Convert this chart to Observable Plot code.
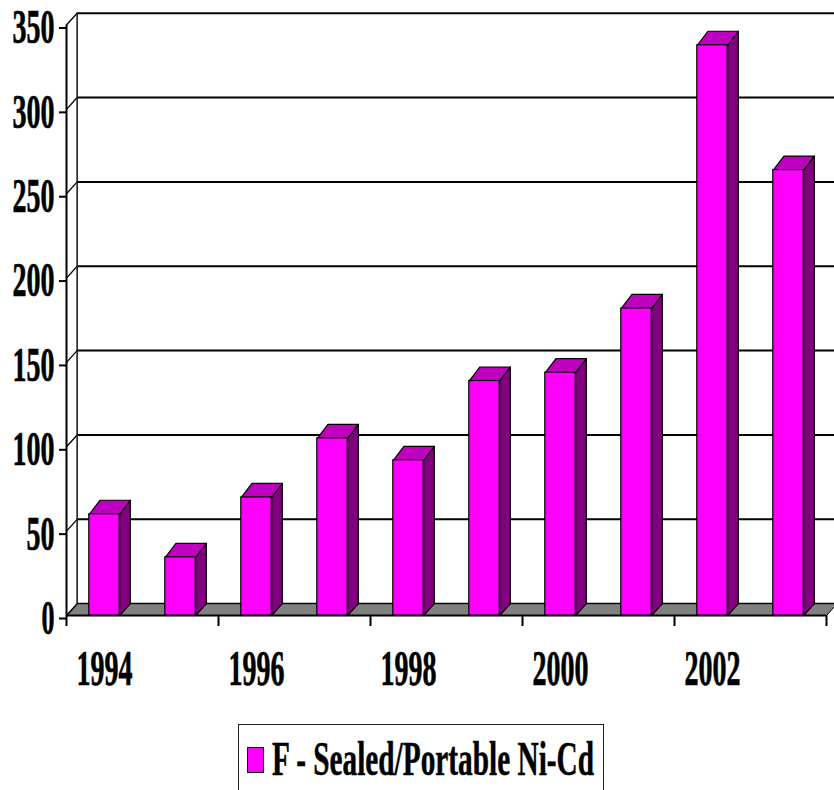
<!DOCTYPE html>
<html>
<head>
<meta charset="utf-8">
<script src="https://cdn.jsdelivr.net/npm/d3@7"></script>
<script src="https://cdn.jsdelivr.net/npm/@observablehq/plot@0.6"></script>
<style>
html,body{margin:0;padding:0;background:#fff;overflow:hidden;height:790px}
svg{display:block}
#legend{position:absolute;left:238px;top:724px;width:366px;height:90px;border:1px solid #222;box-sizing:border-box;background:#fff}
#swatch{position:absolute;left:8px;top:22px;width:17px;height:26px;background:#ff00ff;border:1px solid #000;box-sizing:border-box}
#ltext{position:absolute;left:33px;top:6px;font:bold 48px/56px "Liberation Serif",serif;white-space:nowrap;transform-origin:0 0;color:#000;-webkit-text-stroke:0.5px #000}
</style>
</head>
<body>
<div id="chart"></div>
<div id="legend"><div id="swatch"></div><span id="ltext">F - Sealed/Portable Ni-Cd</span></div>
<script>
const years = [1994,1995,1996,1997,1998,1999,2000,2001,2002,2003];
const values = [60,34.5,70,105,92,139,144,182,338,264];
const yTicks = [0,50,100,150,200,250,300,350];
const xLabels = [1994,1996,1998,2000,2002];
const xTicks = [1993.5,1995.5,1997.5,1999.5,2001.5,2003.5];

const xMin = 1993.5, xMax = 2003.5;
const depthX = 0.14, depthY = 7, topDepthY = 8.3, half = 0.2;

const data = years.map((year,i)=>({year,value:values[i]}));
const poly = (id,pts)=>pts.concat([pts[0]]).map(([x,y])=>({id,x,y}));

const floor = poly("floor",[[xMin,0],[xMax,0],[xMax+depthX,depthY],[xMin+depthX,depthY]]);
const sides = data.flatMap(d=>poly(d.year,[
  [d.year+half,0],[d.year+half+depthX,depthY],
  [d.year+half+depthX,d.value+topDepthY],[d.year+half,d.value]]));
const tops = data.flatMap(d=>poly(d.year,[
  [d.year-half,d.value],[d.year+half,d.value],
  [d.year+half+depthX,d.value+topDepthY],[d.year-half+depthX,d.value+topDepthY]]));

const plot = Plot.plot({
  width:834, height:724,
  marginLeft:66, marginRight:8, marginTop:24.5, marginBottom:109,
  x:{domain:[xMin,xMax]},
  y:{domain:[0,350]},
  marks:[
    Plot.ruleY(yTicks,{y:d=>d+depthY,x1:xMin+depthX,x2:xMax+depthX*2,stroke:"#000",strokeWidth:2}),
    Plot.line(floor,{x:"x",y:"y",z:"id",fill:"#808080",stroke:"#000",strokeWidth:1}),
    Plot.link(yTicks,{x1:xMin,y1:d=>d,x2:xMin+depthX,y2:d=>d+depthY,stroke:"#000",strokeWidth:1.3}),
    Plot.ruleX([xMin+depthX],{y1:depthY,y2:350+depthY,stroke:"#222",strokeWidth:1.6}),
    Plot.ruleX([xMin],{y1:0,y2:350,stroke:"#000",strokeWidth:2}),
    Plot.ruleY([0],{x1:xMin,x2:xMax,stroke:"#000",strokeWidth:2}),
    Plot.line(sides,{x:"x",y:"y",z:"id",fill:"#800080",stroke:"#000",strokeWidth:1.2}),
    Plot.line(tops,{x:"x",y:"y",z:"id",fill:"#c000c0",stroke:"#000",strokeWidth:1.2}),
    Plot.rectY(data,{x1:d=>d.year-half,x2:d=>d.year+half,y1:0,y2:"value",fill:"#ff00ff",stroke:"#000",strokeWidth:1.2}),
    Plot.axisY({ticks:yTicks,tickSize:7,tickPadding:5,label:null,fontSize:48,tickFormat:"d",dy:3,
      fontFamily:"Liberation Serif",fontWeight:"bold"}),
    Plot.axisX({ticks:xTicks,tickSize:11,tickFormat:()=>"",label:null}),
    Plot.axisX({ticks:xLabels,tickSize:0,tickPadding:34,label:null,fontSize:50,tickFormat:"d",
      fontFamily:"Liberation Serif",fontWeight:"bold"})
  ]
});
d3.select(plot).selectAll("[aria-label='y-axis tick'],[aria-label='x-axis tick']").attr("stroke-width",2).attr("stroke","#000");
d3.select(plot).selectAll("text").each(function(){
  const s=this.textContent.trim();
  if(!s) return;
  d3.select(this).attr("textLength",s.length===1?13:s.length*14).attr("lengthAdjust","spacingAndGlyphs")
    .attr("fill","#000").attr("stroke","#000").attr("stroke-width",0.7);
});
d3.select(plot).style("background","#fff").style("font-family","Liberation Serif");
document.getElementById("chart").appendChild(plot);
const lt=document.getElementById("ltext");
const w=lt.getBoundingClientRect().width;
lt.style.transform=`scaleX(${322/w})`;
</script>
</body>
</html>
